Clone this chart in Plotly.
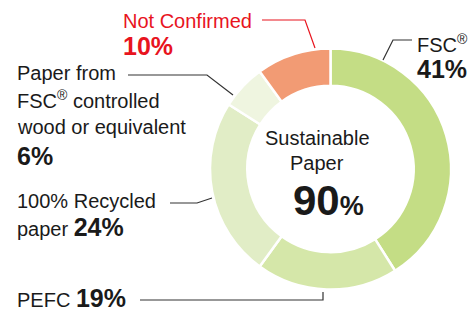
import plotly.graph_objects as go

labels = ["FSC®", "PEFC", "100% Recycled paper", "Paper from FSC® controlled wood or equivalent", "Not Confirmed"]
values = [41, 19, 24, 6, 10]
colors = ["#c4dd85", "#d5e7a9", "#e1edc6", "#eff5e0", "#f29b74"]
sustainable_total = 90

W, H = 473, 314
def px(x): return x / W
def py(y): return 1 - y / H

fig = go.Figure(go.Pie(
    labels=labels, values=values, sort=False, direction="clockwise", rotation=0,
    hole=0.69, marker=dict(colors=colors, line=dict(color="white", width=2.5)),
    textinfo="none", showlegend=False,
    domain=dict(x=[px(210), px(451)], y=[py(290), py(48)]),
))

FONT = "Liberation Sans, Arial, sans-serif"
DARK = "#1a1a1a"
RED = "#e8141e"
PS = 25
ann = []
def t(x, y, text, size=20, color=DARK, anchor="left"):
    ann.append(dict(x=px(x), y=py(y), xref="paper", yref="paper", text=text, showarrow=False,
                    xanchor=anchor, yanchor="middle", font=dict(family=FONT, size=size, color=color)))

pct = lambda v: f"<b>{v}%</b>"
# Not Confirmed
t(121, 21, labels[4], color=RED)
t(121, 46, pct(values[4]), size=PS, color=RED)
# FSC
t(415, 44, "FSC<sup>®</sup>")
t(415, 69, pct(values[0]), size=PS)
# Paper from FSC controlled
t(15, 73, "Paper from")
t(15, 100, "FSC<sup>®</sup> controlled")
t(15, 127, "wood or equivalent")
t(15, 156, pct(values[3]), size=PS)
# Recycled
t(15, 201, "100% Recycled")
t(15, 227, "paper <span style='font-size:%dpx'><b>%d%%</b></span>" % (PS, values[2]))
# PEFC
t(15, 298, "PEFC <span style='font-size:%dpx'><b>%d%%</b></span>" % (PS, values[1]))
# Center
t(317, 138, "Sustainable", anchor="center")
t(317, 163, "Paper", anchor="center")
t(328, 200, "<b>%d</b><span style='font-size:27px'><b>%%</b></span>" % sustainable_total, size=42, anchor="center")

shapes = []
def line(pts, color="#333333"):
    path = "M " + " L ".join(f"{px(x)},{py(y)}" for x, y in pts)
    shapes.append(dict(type="path", path=path, xref="paper", yref="paper",
                       line=dict(color=color, width=1.2)))

line([(262, 20), (305, 20), (315, 48)], RED)
line([(412, 40), (393, 40), (383, 60)])
line([(128, 75), (207, 75), (233, 95)])
line([(170, 203), (197, 203), (212, 198)])
line([(140, 300), (323, 300), (323, 292)])

fig.update_layout(width=W, height=H, margin=dict(l=0, r=0, t=0, b=0),
                  paper_bgcolor="white", plot_bgcolor="white",
                  annotations=ann, shapes=shapes)
fig.write_html("out.html", config={"displayModeBar": False},
               post_script="document.body.style.margin='0';document.body.style.overflow='hidden';")
